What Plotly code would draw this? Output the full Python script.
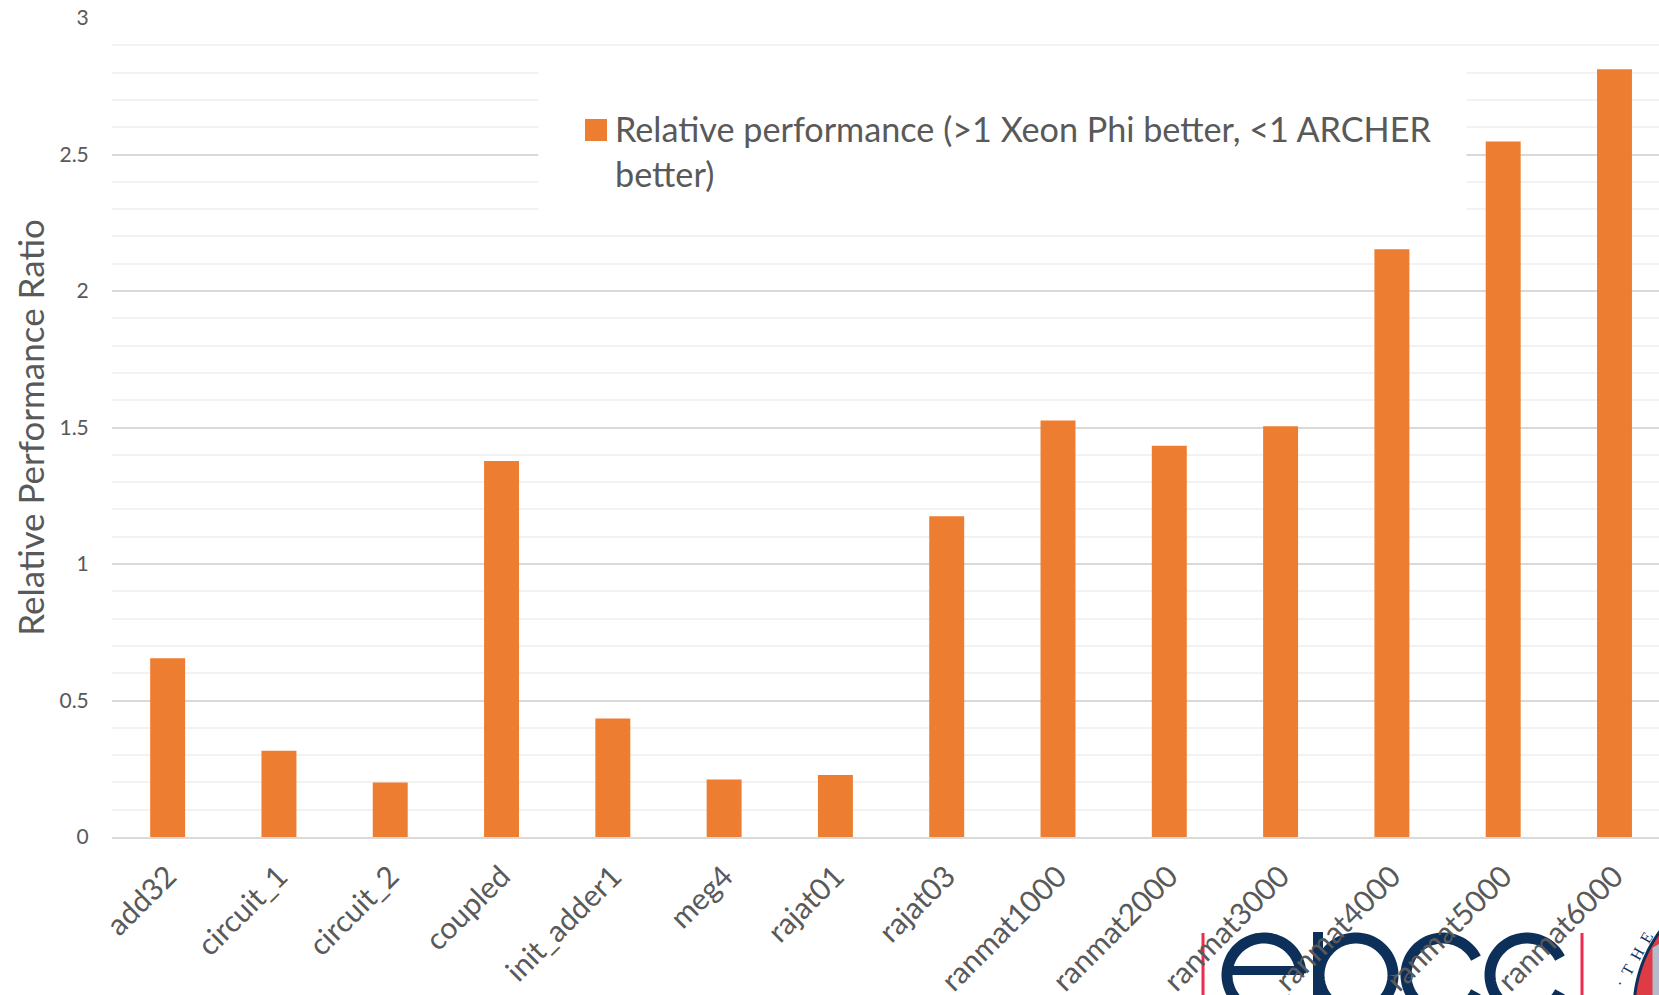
import math
import plotly.graph_objects as go

categories = ["add32", "circuit_1", "circuit_2", "coupled", "init_adder1", "meg4", "rajat01", "rajat03",
              "ranmat1000", "ranmat2000", "ranmat3000", "ranmat4000", "ranmat5000", "ranmat6000"]
relative_performance = [0.655, 0.316, 0.2, 1.377, 0.434, 0.211, 0.227, 1.175,
                        1.526, 1.433, 1.505, 2.153, 2.548, 2.812]
series_name = "Relative performance (>1 Xeon Phi better, <1 ARCHER<br>better)"
y_ticks = [0, 0.5, 1, 1.5, 2, 2.5, 3]
y_tick_labels = ["0", "0.5", "1", "1.5", "2", "2.5", "3"]

W, H = 1659, 995
L, R, T, B = 112, 1659, 18, 837
GREY = "#595959"
NAVY = "#0c3059"
RED = "#ee2a52"
ORANGE = "#ed7d31"

def px(x): return (x - L) / (R - L)
def py(y): return (B - y) / (B - T)

def stroke(points, color, width, fill="rgba(0,0,0,0)", closed=False):
    d = "M" + "L".join(f"{px(x):.5f},{py(y):.5f}" for x, y in points) + ("Z" if closed else "")
    return dict(type="path", xref="paper", yref="paper", layer="below", path=d,
                line=dict(color=color, width=width), fillcolor=fill)

def arc(cx, cy, r, a0, a1, n=90):
    return [(cx + r * math.cos(math.radians(a0 + (a1 - a0) * i / n)),
             cy + r * math.sin(math.radians(a0 + (a1 - a0) * i / n))) for i in range(n + 1)]

CY, RING, SW = 975, 37, 11
logo = [
    stroke([(1203, 933), (1203, 1000)], RED, 3),
    stroke([(1582, 933), (1582, 1000)], RED, 3),
    stroke(arc(1264, CY, RING, -2, -322), NAVY, SW),
    stroke([(1225, 970.5), (1304, 970.5)], NAVY, 9),
    stroke(arc(1356, CY, RING, 0, 360), NAVY, SW),
    stroke([(1318, 932), (1318, 1000)], NAVY, 10),
    stroke(arc(1443, CY, RING, -27, -333), NAVY, SW),
    stroke(arc(1527, CY, RING, -27, -333), NAVY, SW),
    stroke(arc(1766, 1010, 132, 120, 240), NAVY, 3, fill="#de3b45", closed=True),
    stroke([(1653, 948), (1660, 944), (1660, 1000), (1653, 1000)], "#b4bccb", 1, fill="#b4bccb", closed=True),
]

fig = go.Figure(go.Bar(x=categories, y=relative_performance, name=series_name,
                       marker=dict(color=ORANGE, line=dict(width=0)),
                       width=0.314, showlegend=True))

# white panel behind the legend hides the gridlines (data-referenced so it sits below the bars)
legend_mask = dict(type="rect", xref="x", yref="y", layer="between",
                   x0=3.33, x1=11.67, y0=2.25, y1=2.85,
                   fillcolor="white", line=dict(width=0))
legend_key = dict(type="rect", xref="paper", yref="paper", layer="above",
                  x0=px(585), x1=px(607), y0=py(141), y1=py(119),
                  fillcolor=ORANGE, line=dict(width=0))

fig.update_layout(
    width=W, height=H, autosize=False,
    margin=dict(l=L, r=W - R, t=T, b=H - B, pad=0),
    paper_bgcolor="white", plot_bgcolor="white",
    font=dict(family="Lato, Carlito, sans-serif", color=GREY),
    bargap=0.686,
    shapes=[legend_mask, legend_key] + logo,
    annotations=[dict(text="·\u00a0\u00a0T\u00a0\u00a0H\u00a0\u00a0E", xref="paper", yref="paper",
                      x=px(1634), y=py(960), xanchor="center", yanchor="middle",
                      showarrow=False, textangle=-60,
                      font=dict(family="Liberation Serif", size=16, color=NAVY))],
    showlegend=True,
    legend=dict(x=px(575), y=py(100), xanchor="left", yanchor="top", valign="top",
                bgcolor="rgba(0,0,0,0)", font=dict(size=34.2, color=GREY),
                itemwidth=30, traceorder="normal"),
    xaxis=dict(type="category", range=[-0.5, 13.4], tickangle=-45,
               tickfont=dict(size=30, color=GREY), showgrid=False,
               ticks="outside", ticklen=8, tickcolor="rgba(0,0,0,0)",
               showline=True, linecolor="#d9d9d9", linewidth=1.5, automargin=False),
    yaxis=dict(range=[0, 3], tickvals=y_ticks, ticktext=y_tick_labels,
               tickfont=dict(size=21, color=GREY),
               ticks="outside", ticklen=18, tickcolor="rgba(0,0,0,0)",
               showline=False, zeroline=False,
               gridcolor="#d9d9d9", gridwidth=1.5,
               minor=dict(dtick=0.1, showgrid=True, gridcolor="#f2f2f2", gridwidth=1.5, ticks=""),
               title=dict(text="Relative Performance Ratio", font=dict(size=35, color=GREY), standoff=4),
               automargin=False),
)

fig.write_html("out.html", config=dict(displayModeBar=False),
               post_script="document.body.style.margin='0';document.documentElement.style.overflow='hidden';")
